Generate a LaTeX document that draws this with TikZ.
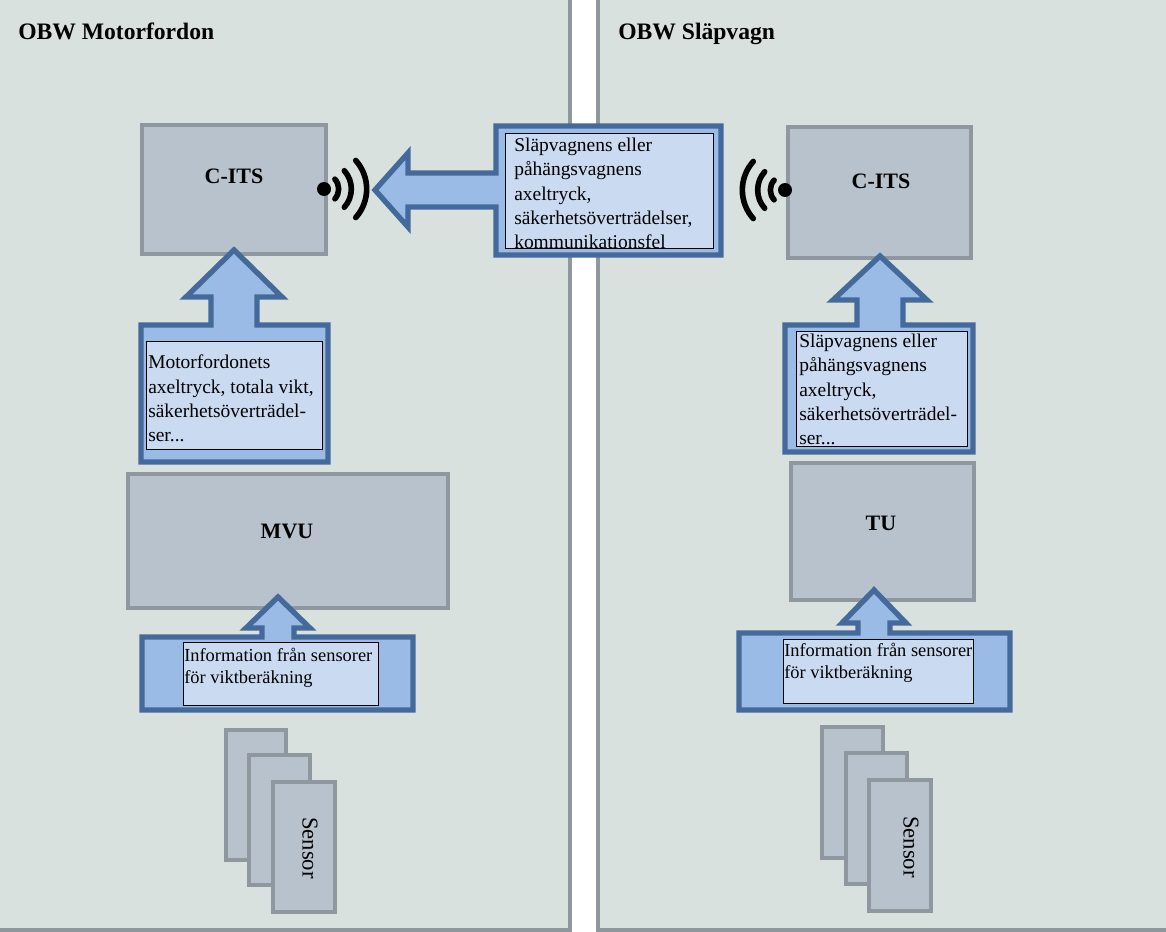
\documentclass[tikz,border=0pt]{standalone}
\usepackage{fontspec}
\setmainfont{Liberation Serif}
\usetikzlibrary{calc}
\definecolor{panelfill}{HTML}{D8E1DE}
\definecolor{panelline}{HTML}{8E979B}
\definecolor{unitfill}{HTML}{B8C2CC}
\definecolor{unitline}{HTML}{8F989F}
\definecolor{calloutfill}{HTML}{9ABBE5}
\definecolor{calloutline}{HTML}{44699B}
\definecolor{notefill}{HTML}{C9DAF1}
\tikzset{
  panel/.style={draw=panelline,fill=panelfill,line width=2.3pt},
  unit/.style={draw=unitline,fill=unitfill,line width=2.7pt},
  callout/.style={draw=calloutline,fill=calloutfill,line width=4pt,miter limit=10},
  note/.style={draw=black,fill=notefill,line width=0.65pt},
  bodytext/.style={anchor=north west,inner sep=0pt,align=left,font=\fontsize{14.6}{18.1}\selectfont},
  smalltext/.style={anchor=north west,inner sep=0pt,align=left,font=\fontsize{13.8}{16.5}\selectfont},
  title/.style={anchor=base west,inner sep=0pt,font=\fontsize{17.7}{20}\selectfont\bfseries},
  unitname/.style={inner sep=0pt,font=\fontsize{16.5}{20}\selectfont\bfseries},
  sensorname/.style={inner sep=0pt,rotate=-90,font=\fontsize{17}{20}\selectfont},
  wave/.style={line width=4.2pt,line cap=round,draw=black},
  antenna/.style={circle,fill=black,inner sep=0pt,minimum size=10.5pt},
}
% rectangle node given by its two corners: style, name, x1, y1, x2, y2
\newcommand{\boxnode}[6]{%
  \pgfmathsetmacro{\bw}{(#5-#3)*0.75}%
  \pgfmathsetmacro{\bh}{(#6-#4)*0.75}%
  \node[#1,anchor=north west,inner sep=0pt,outer sep=0pt,minimum width=\bw pt,minimum height=\bh pt] (#2) at (#3,#4) {};%
}
% three radio arcs round an antenna dot, opening towards the given angle
\newcommand{\waves}[2]{%
  \draw[wave] (#1) ++(#2-42:11pt) arc (#2-42:#2+42:11pt);
  \draw[wave] (#1) ++(#2-42:20.5pt) arc (#2-42:#2+42:20.5pt);
  \draw[wave] (#1) ++(#2-42:32pt) arc (#2-42:#2+42:32pt);
}
\begin{document}
\begin{tikzpicture}[x=0.75pt,y=-0.75pt]
\useasboundingbox (0,0) rectangle (1166,931);
\begin{scope}
\clip (0,0) rectangle (1166,931);
\fill[white] (0,0) rectangle (1166,931);

% vehicle panels
\boxnode{panel}{leftpanel}{-4}{-4}{570}{930}
\boxnode{panel}{rightpanel}{598}{-4}{1170}{930}
\node[title] (lefttitle) at (18,39.5) {OBW Motorfordon};
\node[title] (righttitle) at (618,39.5) {OBW Släpvagn};

% processing units
\boxnode{unit}{citsl}{142}{125}{326}{254}
\boxnode{unit}{citsr}{788}{127}{971}{258}
\boxnode{unit}{mvu}{128}{474}{448}{608}
\boxnode{unit}{tu}{791}{463}{974}{600}
\node[unitname] (citsltext) at (234,176) {C-ITS};
\node[unitname] (citsrtext) at (881,181) {C-ITS};
\node[unitname] (mvutext) at (287,531) {MVU};
\node[unitname] (tutext) at (881,523) {TU};

% sensor stacks
\boxnode{unit}{sla}{226}{730}{286}{860}
\boxnode{unit}{slb}{249}{755}{310}{885}
\boxnode{unit}{slc}{273}{782}{335}{912}
\boxnode{unit}{sra}{822}{727}{883}{858}
\boxnode{unit}{srb}{846}{753}{907}{884}
\boxnode{unit}{src}{869}{780}{931}{911}
\node[sensorname] (sltext) at (310,848) {Sensor};
\node[sensorname] (srtext) at (911,847) {Sensor};

% radio symbols
\node[antenna] (antl) at (324,189) {};
\node[antenna] (antr) at (785,190) {};
\waves{antl}{0}
\waves{antr}{180}

% callout over the gap between the panels, pointing left
\draw[callout] (721,126) -- (721,255) -- (496,255) -- (496,207) -- (408,207) -- (408,227)
  -- (375,190) -- (408,153) -- (408,173) -- (496,173) -- (496,126) -- cycle;
\boxnode{note}{notetop}{505}{133}{713}{248}
\begin{scope}
\clip (505,133) rectangle (713,248);
\node[bodytext] (notetoptext) at (514,138) {Släpvagnens eller\\påhängsvagnens\\axeltryck,\\säkerhetsöverträdelser,\\kommunikationsfel};
\end{scope}

% left panel, upper callout
\draw[callout] (141,325) -- (211,325) -- (211,297) -- (186,297) -- (234,250) -- (282,297)
  -- (257,297) -- (257,325) -- (328,325) -- (328,462) -- (141,462) -- cycle;
\boxnode{note}{noteml}{146}{341}{322}{449}
\node[bodytext] (notemltext) at (148,355) {Motorfordonets\\axeltryck, totala vikt,\\säkerhetsöverträdel-\\ser...};

% right panel, upper callout
\draw[callout] (785,325) -- (857,325) -- (857,300) -- (833,300) -- (880,256) -- (927,300)
  -- (903,300) -- (903,325) -- (973,325) -- (973,452) -- (785,452) -- cycle;
\boxnode{note}{notemr}{796}{331}{967}{446}
\begin{scope}
\clip (796,331) rectangle (967,446);
\node[bodytext] (notemrtext) at (799,334) {Släpvagnens eller\\påhängsvagnens\\axeltryck,\\säkerhetsöverträdel-\\ser...};
\end{scope}

% left panel, lower callout
\draw[callout] (142,637) -- (262,637) -- (262,628) -- (246,628) -- (278,597) -- (310,628)
  -- (294,628) -- (294,637) -- (413,637) -- (413,710) -- (142,710) -- cycle;
\boxnode{note}{notebl}{183}{642}{378}{705}
\node[smalltext] (notebltext) at (184,648) {Information från sensorer\\för viktberäkning};

% right panel, lower callout
\draw[callout] (739,633) -- (858,633) -- (858,623) -- (842,623) -- (874,590) -- (906,623)
  -- (890,623) -- (890,633) -- (1010,633) -- (1010,710) -- (739,710) -- cycle;
\boxnode{note}{notebr}{783}{639}{973}{703}
\node[smalltext] (notebrtext) at (784,643) {Information från sensorer\\för viktberäkning};
\end{scope}
\end{tikzpicture}
\end{document}
